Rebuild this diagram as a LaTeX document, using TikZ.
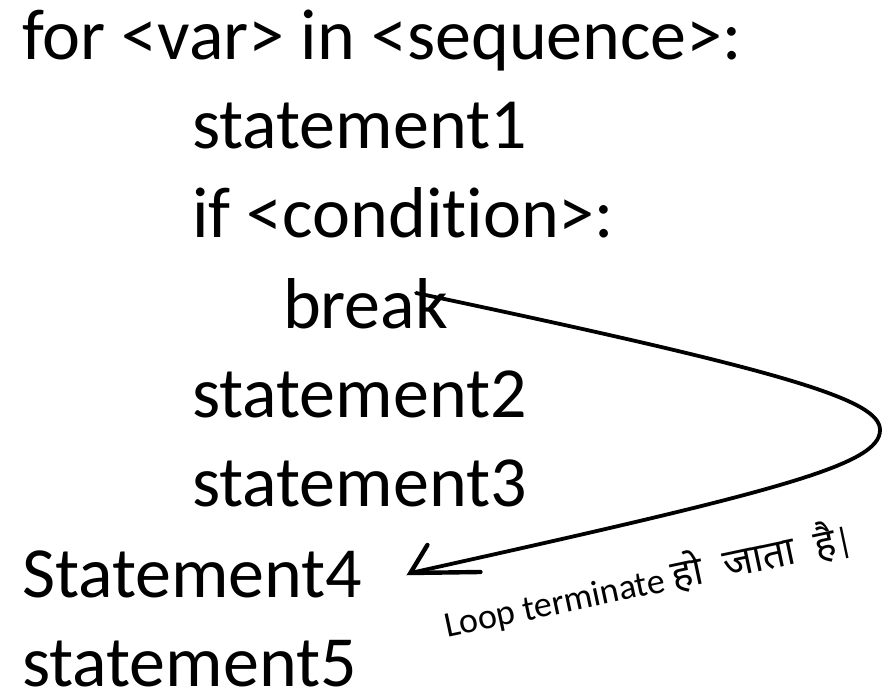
\documentclass[tikz,border=0pt]{standalone}
\usepackage{fontspec}
\setmainfont{Carlito}[Ligatures=NoCommon]
\newfontfamily\deva[Script=Devanagari]{Noto Sans}
\usepackage{tikz}
\usetikzlibrary{positioning,calc}
\definecolor{ink}{HTML}{000000}
\definecolor{paper}{HTML}{FFFFFF}
\tikzset{
  code/.style = {font=\fontsize{72}{80}\selectfont\color{ink}, anchor=base west, inner sep=0pt, outer sep=0pt},
  note/.style = {font=\fontsize{36}{40}\selectfont\color{ink}, anchor=base west, inner sep=0pt, outer sep=0pt, rotate=12},
  jump/.style = {draw=ink, line width=3.8pt, line cap=round},
  barb/.style = {draw=ink, line width=4.4pt, line cap=round},
}
\begin{document}
\begin{tikzpicture}[x=1pt,y=1pt]
\fill[paper] (0,0) rectangle (887,691);
\path[use as bounding box] (0,0) rectangle (887,691);

% ---- the loop -----------------------------------------------------------
\node[code] (forln) at (22,631) {for <var> in <sequence>:};
\node[code] (stmti) at (192,542) {statement1};
\node[code] (cond)  at (192,453) {if <condi\kern0pt tion>:};
\node[code] (brk)   at (283,362) {break};
\node[code] (stmtii)  at (192,273) {statement2};
\node[code] (stmtiii) at (192,184) {statement3};

% ---- after the loop -----------------------------------------------------
\node[code] (stmtiv) at (22,93) {Statement4};
\node[code] (stmtv)  at (22,4)  {statement5};

% ---- the jump out of the loop -------------------------------------------
\coordinate (kstem) at ($(brk.base east)+(-32,36)$);
\coordinate (turn)  at (880,261);
\coordinate (tip)   at ($(stmtiv.base east)+(48,25)$);
\draw[jump] (kstem) .. controls (790,319) and (880,291) .. (turn)
                    .. controls (880,226) and (780,200) .. (tip);
\draw[barb] ($(tip)+(17,28)$) -- (tip) -- ($(tip)+(70,1)$);

\node[note] (why) at (447,53)
  {Loop terminate {\deva\fontsize{40}{44}\selectfont हो\ \ जाता\ \ है}|};

\end{tikzpicture}
\end{document}
